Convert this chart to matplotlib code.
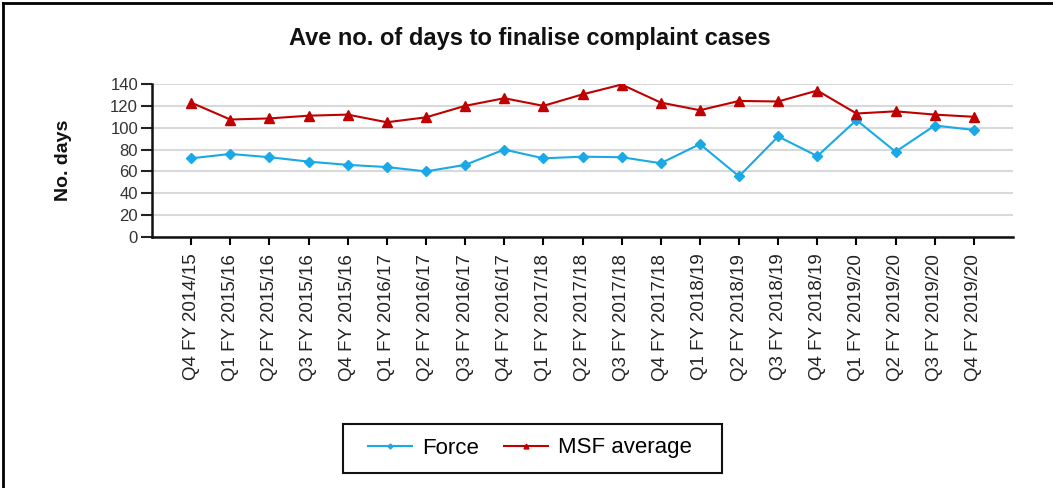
import matplotlib
matplotlib.use("Agg")
import matplotlib.pyplot as plt
from matplotlib.lines import Line2D
from matplotlib.patches import Rectangle

plt.rcParams['font.family'] = ['Liberation Sans', 'DejaVu Sans']

quarters = ["Q4 FY 2014/15", "Q1 FY 2015/16", "Q2 FY 2015/16", "Q3 FY 2015/16",
            "Q4 FY 2015/16", "Q1 FY 2016/17", "Q2 FY 2016/17", "Q3 FY 2016/17",
            "Q4 FY 2016/17", "Q1 FY 2017/18", "Q2 FY 2017/18", "Q3 FY 2017/18",
            "Q4 FY 2017/18", "Q1 FY 2018/19", "Q2 FY 2018/19", "Q3 FY 2018/19",
            "Q4 FY 2018/19", "Q1 FY 2019/20", "Q2 FY 2019/20", "Q3 FY 2019/20",
            "Q4 FY 2019/20"]
force = [72, 76, 73, 69, 66, 64, 60, 66, 80, 72, 73.5, 73, 67.5, 85, 55.5, 92,
         74, 107, 78, 102, 98]
msf_average = [123, 107.5, 108.5, 111, 112, 105, 109.5, 120, 127, 120, 130.5, 139.5,
               123, 116, 124.5, 124, 134, 113, 115, 112, 110]
yticks = [0, 20, 40, 60, 80, 100, 120, 140]

BLUE = "#19a9e6"
RED = "#c00000"
W, H = 1053, 488

fig = plt.figure(figsize=(W/100, H/100), dpi=100)
ax = fig.add_axes([152/W, 1-237/H, (1013-152)/W, (237-84)/H])

x = list(range(len(quarters)))
ax.plot(x, force, color=BLUE, lw=1.5, marker="D", ms=5, label="Force", zorder=3)
ax.plot(x, msf_average, color=RED, lw=1.5, marker="^", ms=7, label="MSF average", zorder=3)

ax.set_xlim(-1, len(quarters))
ax.set_ylim(0, 140)
ax.set_yticks(yticks)
ax.set_xticks(x)
ax.set_xticklabels(quarters, rotation=90, fontsize=13.5, color="#222222")
ax.tick_params(axis='y', labelsize=12, length=8, width=1.5, colors="#222222", pad=2)
ax.tick_params(axis='x', length=6, width=1.5, pad=6)
for lbl in ax.get_yticklabels():
    lbl.set_color("#333333")

ax.grid(axis='y', color="#d9d9d9", lw=1.5)
ax.set_axisbelow(True)
for s in ["top", "right"]:
    ax.spines[s].set_visible(False)
for s in ["left", "bottom"]:
    ax.spines[s].set_linewidth(1.8)
    ax.spines[s].set_color("#111111")

fig.text(530/W, 1-38/H, "Ave no. of days to finalise complaint cases",
         ha="center", va="center", fontsize=17, fontweight="bold", color="#111111")
fig.text(64/W, 1-160/H, "No. days", rotation=90, ha="center", va="center",
         fontsize=14, fontweight="bold", color="#111111")

leg = fig.legend(loc="center", bbox_to_anchor=(530/W, 1-448/H), ncol=2,
                 fontsize=16, frameon=False,
                 handlelength=2.0, handletextpad=0.45, columnspacing=1.1,
                 markerscale=0.5)

fig.add_artist(Rectangle((343/W, 1-473/H), (722-343)/W, (473-424)/H,
                         transform=fig.transFigure, fill=False,
                         edgecolor="#111111", lw=1.5))
fig.add_artist(Line2D([3/W, 1], [1-3/H, 1-3/H], color="black", lw=2,
                      transform=fig.transFigure))
fig.add_artist(Line2D([3/W, 3/W], [0, 1-3/H], color="black", lw=2,
                      transform=fig.transFigure))

fig.savefig("out.png", dpi=100)
